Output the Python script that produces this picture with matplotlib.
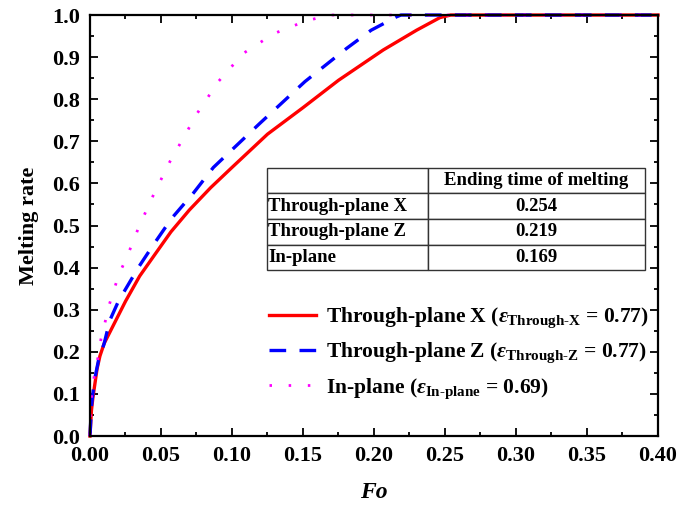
import matplotlib.pyplot as plt
import numpy as np

plt.rcParams['font.family'] = 'Liberation Serif'
plt.rcParams['font.weight'] = 'bold'
plt.rcParams['mathtext.fontset'] = 'custom'
plt.rcParams['mathtext.rm'] = 'Liberation Serif:bold'
plt.rcParams['mathtext.it'] = 'Liberation Serif:bold:italic'
plt.rcParams['mathtext.bf'] = 'Liberation Serif:bold'

# Through-plane X
fo_x = [0, 0.001, 0.002, 0.005, 0.007, 0.01, 0.016, 0.025, 0.035, 0.0446, 0.057, 0.07,
        0.085, 0.10, 0.125, 0.15, 0.175, 0.2065, 0.23, 0.2465, 0.254, 0.4]
mr_x = [0, 0.06, 0.09, 0.16, 0.19, 0.22, 0.26, 0.32, 0.38, 0.426, 0.485, 0.537,
        0.59, 0.638, 0.717, 0.78, 0.845, 0.917, 0.964, 0.994, 1.0, 1.0]

# Through-plane Z
fo_z = [0, 0.001, 0.003, 0.006, 0.01, 0.014, 0.02, 0.027, 0.034, 0.0446, 0.0575,
        0.0728, 0.0869, 0.1197, 0.1514, 0.1808, 0.198, 0.216, 0.219, 0.4]
mr_z = [0, 0.07, 0.13, 0.18, 0.22, 0.275, 0.32, 0.36, 0.40, 0.454, 0.517,
        0.577, 0.638, 0.743, 0.842, 0.921, 0.964, 0.996, 1.0, 1.0]

# In-plane
fo_i = [0, 0.0005, 0.0019, 0.0035, 0.0059, 0.0077, 0.0106, 0.0131, 0.0169, 0.0204,
        0.0254, 0.0347, 0.045, 0.0563, 0.0629, 0.0756, 0.0904, 0.108, 0.1296,
        0.152, 0.169, 0.4]
mr_i = [0, 0.08, 0.116, 0.155, 0.19, 0.23, 0.27, 0.307, 0.347, 0.385,
        0.42, 0.499, 0.575, 0.652, 0.691, 0.767, 0.842, 0.909, 0.956,
        0.986, 1.0, 1.0]

row_names = ['Through-plane X', 'Through-plane Z', 'In-plane']
end_times = ['0.254', '0.219', '0.169']

fig = plt.figure(figsize=(6.96, 5.08), dpi=100)
ax = fig.add_axes([0.1293, 0.1417, 0.8161, 0.8287])

ax.plot(fo_x, mr_x, color='#ff0000', lw=2.4, clip_on=False,
        label=r'Through-plane X ($\varepsilon_{\mathrm{Through\text{-}X}}$ = 0.77)')
ax.plot(fo_z, mr_z, color='#0000ff', lw=2.4, linestyle=(0, (5, 4)), clip_on=False,
        label=r'Through-plane Z ($\varepsilon_{\mathrm{Through\text{-}Z}}$ = 0.77)')
ax.plot(fo_i, mr_i, color='#ff00ff', lw=2.0, linestyle=(0, (0.9, 6)), clip_on=False,
        label=r'In-plane ($\varepsilon_{\mathrm{In\text{-}plane}}$ = 0.69)')

ax.set_xlim(0, 0.4)
ax.set_ylim(0, 1.0)
ax.set_xticks(np.arange(0, 0.401, 0.05))
ax.set_yticks(np.arange(0, 1.001, 0.1))
ax.set_xticks(np.arange(0.025, 0.4, 0.05), minor=True)
ax.set_yticks(np.arange(0.05, 1.0, 0.1), minor=True)
ax.tick_params(which='both', direction='in', top=True, right=True, width=1.3)
ax.tick_params(which='major', length=6, labelsize=16)
ax.tick_params(axis='x', which='major', pad=7)
ax.tick_params(axis='y', which='major', pad=7)
ax.tick_params(which='minor', length=3)
for s in ax.spines.values():
    s.set_linewidth(1.6)

ax.set_xlabel('Fo', fontsize=17, fontstyle='italic', fontweight='bold', labelpad=12)
ax.set_ylabel('Melting rate', fontsize=16, fontweight='bold', labelpad=10)

cells = [[''] + ['Ending time of melting']] + [[n, t] for n, t in zip(row_names, end_times)]
tab = ax.table(cellText=cells, bbox=[0.312, 0.394, 0.665, 0.243],
               colWidths=[0.426, 0.574], cellLoc='center')
tab.auto_set_font_size(False)
for (r, c), cell in tab.get_celld().items():
    cell.set_linewidth(1.0)
    cell.set_edgecolor('#333333')
    cell.get_text().set_fontsize(13.5)
    cell.get_text().set_fontweight('bold')
    if c == 0:
        cell.get_text().set_horizontalalignment('left')
        cell.PAD = 0.005

ax.legend(loc='upper left', bbox_to_anchor=(0.3, 0.33), frameon=False,
          fontsize=15.5, handlelength=2.2, handletextpad=0.45, labelspacing=0.5,
          borderaxespad=0)

fig.savefig('out.png', dpi=100)
